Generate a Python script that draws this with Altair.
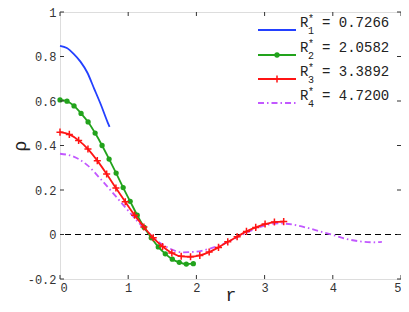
import altair as alt
import pandas as pd

# ---- data ----
blue_r = [0, 0.1, 0.2, 0.3, 0.4, 0.5, 0.6, 0.7, 0.7266]
blue_rho = [0.848, 0.838, 0.812, 0.777, 0.728, 0.656, 0.583, 0.503, 0.484]

green_r = [0, 0.103, 0.206, 0.309, 0.412, 0.515, 0.617, 0.720, 0.823, 0.926,
           1.029, 1.132, 1.235, 1.338, 1.441, 1.544, 1.647, 1.749, 1.852, 1.955]
green_rho = [0.605, 0.599, 0.578, 0.544, 0.506, 0.456, 0.400, 0.339, 0.276, 0.211,
             0.149, 0.087, 0.032, -0.015, -0.056, -0.087, -0.111, -0.125, -0.133, -0.131]

red_r = [0, 0.137, 0.273, 0.410, 0.547, 0.684, 0.820, 0.957, 1.094, 1.230,
         1.367, 1.504, 1.640, 1.777, 1.914, 2.050, 2.187, 2.324, 2.460, 2.597,
         2.734, 2.870, 3.007, 3.144, 3.280]
red_rho = [0.460, 0.450, 0.423, 0.384, 0.332, 0.272, 0.209, 0.147, 0.087, 0.034,
           -0.015, -0.054, -0.083, -0.098, -0.100, -0.094, -0.079, -0.058, -0.033, -0.010,
           0.014, 0.032, 0.047, 0.056, 0.058]

mag_r = [0, 0.2, 0.4, 0.6, 0.8, 1.0, 1.2, 1.4, 1.6, 1.8, 2.0, 2.2, 2.4, 2.6, 2.8,
         3.0, 3.2, 3.4, 3.6, 3.8, 4.0, 4.2, 4.4, 4.6, 4.72]
mag_rho = [0.363, 0.350, 0.312, 0.248, 0.178, 0.107, 0.038, -0.022, -0.062, -0.080,
           -0.077, -0.063, -0.042, -0.012, 0.017, 0.040, 0.050, 0.045, 0.032, 0.015,
           -0.002, -0.020, -0.031, -0.035, -0.033]

legend_sub = ["1", "2", "3", "4"]
legend_vals = ["0.7266", "2.0582", "3.3892", "4.7200"]

x_ticks = [0, 1, 2, 3, 4, 5]
y_ticks = [-0.2, 0, 0.2, 0.4, 0.6, 0.8, 1.0]

BLUE = "#2340ff"
GREEN = "#22a31c"
RED = "#ff1414"
MAG = "#c258ff"
FONT = "Liberation Mono"

W, H = 341, 267

xs = alt.Scale(domain=[0, 5], nice=False, zero=False)
ys = alt.Scale(domain=[-0.2, 1], nice=False, zero=False)

def series_df(r, rho):
    return pd.DataFrame({"r": r, "rho": rho})

LBL = "replace(format(datum.value, '.1~f'), '−', '-')"

X = alt.X("r:Q", scale=xs,
          axis=alt.Axis(values=x_ticks, title="r", labelFont=FONT, labelFontSize=12,
                        labelColor="#333", ticks=False, domain=False, grid=False,
                        labelPadding=3, labelExpr=LBL,
                        titleFont=FONT, titleFontSize=18,
                        titleFontWeight="normal", titleColor="#222",
                        titleX=W / 2, titleY=21, titleBaseline="alphabetic",
                        titleAlign="center"))
Y = alt.Y("rho:Q", scale=ys,
          axis=alt.Axis(values=y_ticks, title="ρ", labelFont=FONT, labelFontSize=12,
                        labelColor="#333", ticks=False, domain=False, grid=False,
                        labelPadding=4, labelExpr=LBL,
                        titleFont=FONT, titleFontSize=18, titleFontWeight="normal",
                        titleColor="#222", titleX=-40, titleY=H / 2, titleAngle=270,
                        titleBaseline="middle", titleAlign="center"))

zero = alt.Chart(pd.DataFrame({"z": [0]})).mark_rule(
    color="black", strokeDash=[6, 4], strokeWidth=1).encode(
    y=alt.Y("z:Q", scale=ys))

blue = alt.Chart(series_df(blue_r, blue_rho)).mark_line(
    color=BLUE, strokeWidth=1.8, interpolate="monotone").encode(x=X, y=Y)

mag = alt.Chart(series_df(mag_r, mag_rho)).mark_line(
    color=MAG, strokeWidth=1.8, strokeDash=[6, 3, 1.5, 3], interpolate="monotone").encode(
    x=alt.X("r:Q", scale=xs), y=alt.Y("rho:Q", scale=ys))

green_line = alt.Chart(series_df(green_r, green_rho)).mark_line(
    color=GREEN, strokeWidth=1.8, interpolate="monotone").encode(
    x=alt.X("r:Q", scale=xs), y=alt.Y("rho:Q", scale=ys))
green_pts = alt.Chart(series_df(green_r, green_rho)).mark_point(
    color=GREEN, filled=True, opacity=1, size=28, shape="circle").encode(
    x=alt.X("r:Q", scale=xs), y=alt.Y("rho:Q", scale=ys))

PLUS = "M-1,0L1,0M0,-1L0,1"
red_line = alt.Chart(series_df(red_r, red_rho)).mark_line(
    color=RED, strokeWidth=1.8, interpolate="monotone").encode(
    x=alt.X("r:Q", scale=xs), y=alt.Y("rho:Q", scale=ys))
red_pts = alt.Chart(series_df(red_r, red_rho)).mark_point(
    color=RED, filled=False, opacity=1, size=50, shape=PLUS, strokeWidth=1.5).encode(
    x=alt.X("r:Q", scale=xs), y=alt.Y("rho:Q", scale=ys))

# inward ticks on all four sides
TL = 4
xt = pd.DataFrame({"t": x_ticks})
yt = pd.DataFrame({"t": y_ticks})
tick_col = "#333"
ticks = [
    alt.Chart(xt).mark_rule(color=tick_col).encode(
        x=alt.X("t:Q", scale=xs), y=alt.value(H), y2=alt.value(H - TL)),
    alt.Chart(xt).mark_rule(color=tick_col).encode(
        x=alt.X("t:Q", scale=xs), y=alt.value(0), y2=alt.value(TL)),
    alt.Chart(yt).mark_rule(color=tick_col).encode(
        y=alt.Y("t:Q", scale=ys), x=alt.value(0), x2=alt.value(TL)),
    alt.Chart(yt).mark_rule(color=tick_col).encode(
        y=alt.Y("t:Q", scale=ys), x=alt.value(W), x2=alt.value(W - TL)),
]

# manual legend (top-right, no box)
one = pd.DataFrame({"a": [0]})
leg = []
rows = [18, 43, 67, 91]
styles = [(BLUE, None, None), (GREEN, "circle", None), (RED, "plus", None), (MAG, None, [6, 3, 1.5, 3])]
for i, ly in enumerate(rows):
    col, mk, dash = styles[i]
    rule_kw = dict(color=col, strokeWidth=1.8)
    if dash:
        rule_kw["strokeDash"] = dash
    leg.append(alt.Chart(one).mark_rule(**rule_kw).encode(
        x=alt.value(198), x2=alt.value(236), y=alt.value(ly)))
    if mk == "circle":
        leg.append(alt.Chart(one).mark_point(color=GREEN, filled=True, opacity=1, size=28,
                                             shape="circle").encode(
            x=alt.value(217), y=alt.value(ly)))
    if mk == "plus":
        leg.append(alt.Chart(one).mark_point(color=RED, filled=False, opacity=1, size=50,
                                             shape=PLUS, strokeWidth=1.5).encode(
            x=alt.value(217), y=alt.value(ly)))
    leg.append(alt.Chart(one).mark_text(font=FONT, fontSize=14, align="left",
                                        baseline="alphabetic", color="#222").encode(
        x=alt.value(240), y=alt.value(ly - 3), text=alt.value("R")))
    leg.append(alt.Chart(one).mark_text(font=FONT, fontSize=10, align="left",
                                        baseline="alphabetic", color="#222").encode(
        x=alt.value(248), y=alt.value(ly - 8), text=alt.value("*")))
    leg.append(alt.Chart(one).mark_text(font=FONT, fontSize=10, align="left",
                                        baseline="alphabetic", color="#222").encode(
        x=alt.value(248), y=alt.value(ly + 4), text=alt.value(legend_sub[i])))
    leg.append(alt.Chart(one).mark_text(font=FONT, fontSize=14, align="left",
                                        baseline="alphabetic", color="#222").encode(
        x=alt.value(262), y=alt.value(ly - 3), text=alt.value("= " + legend_vals[i])))

chart = alt.layer(zero, mag, blue, green_line, green_pts, red_line, red_pts,
                  *ticks, *leg).properties(
    width=W, height=H,
    autosize=alt.AutoSizeParams(type="none"),
    padding={"left": 52, "top": 4, "right": 0, "bottom": 25},
).configure_view(stroke="#333", strokeWidth=1).configure(background="white")

chart.save("out.html", embed_options={"renderer": "svg", "actions": False})
